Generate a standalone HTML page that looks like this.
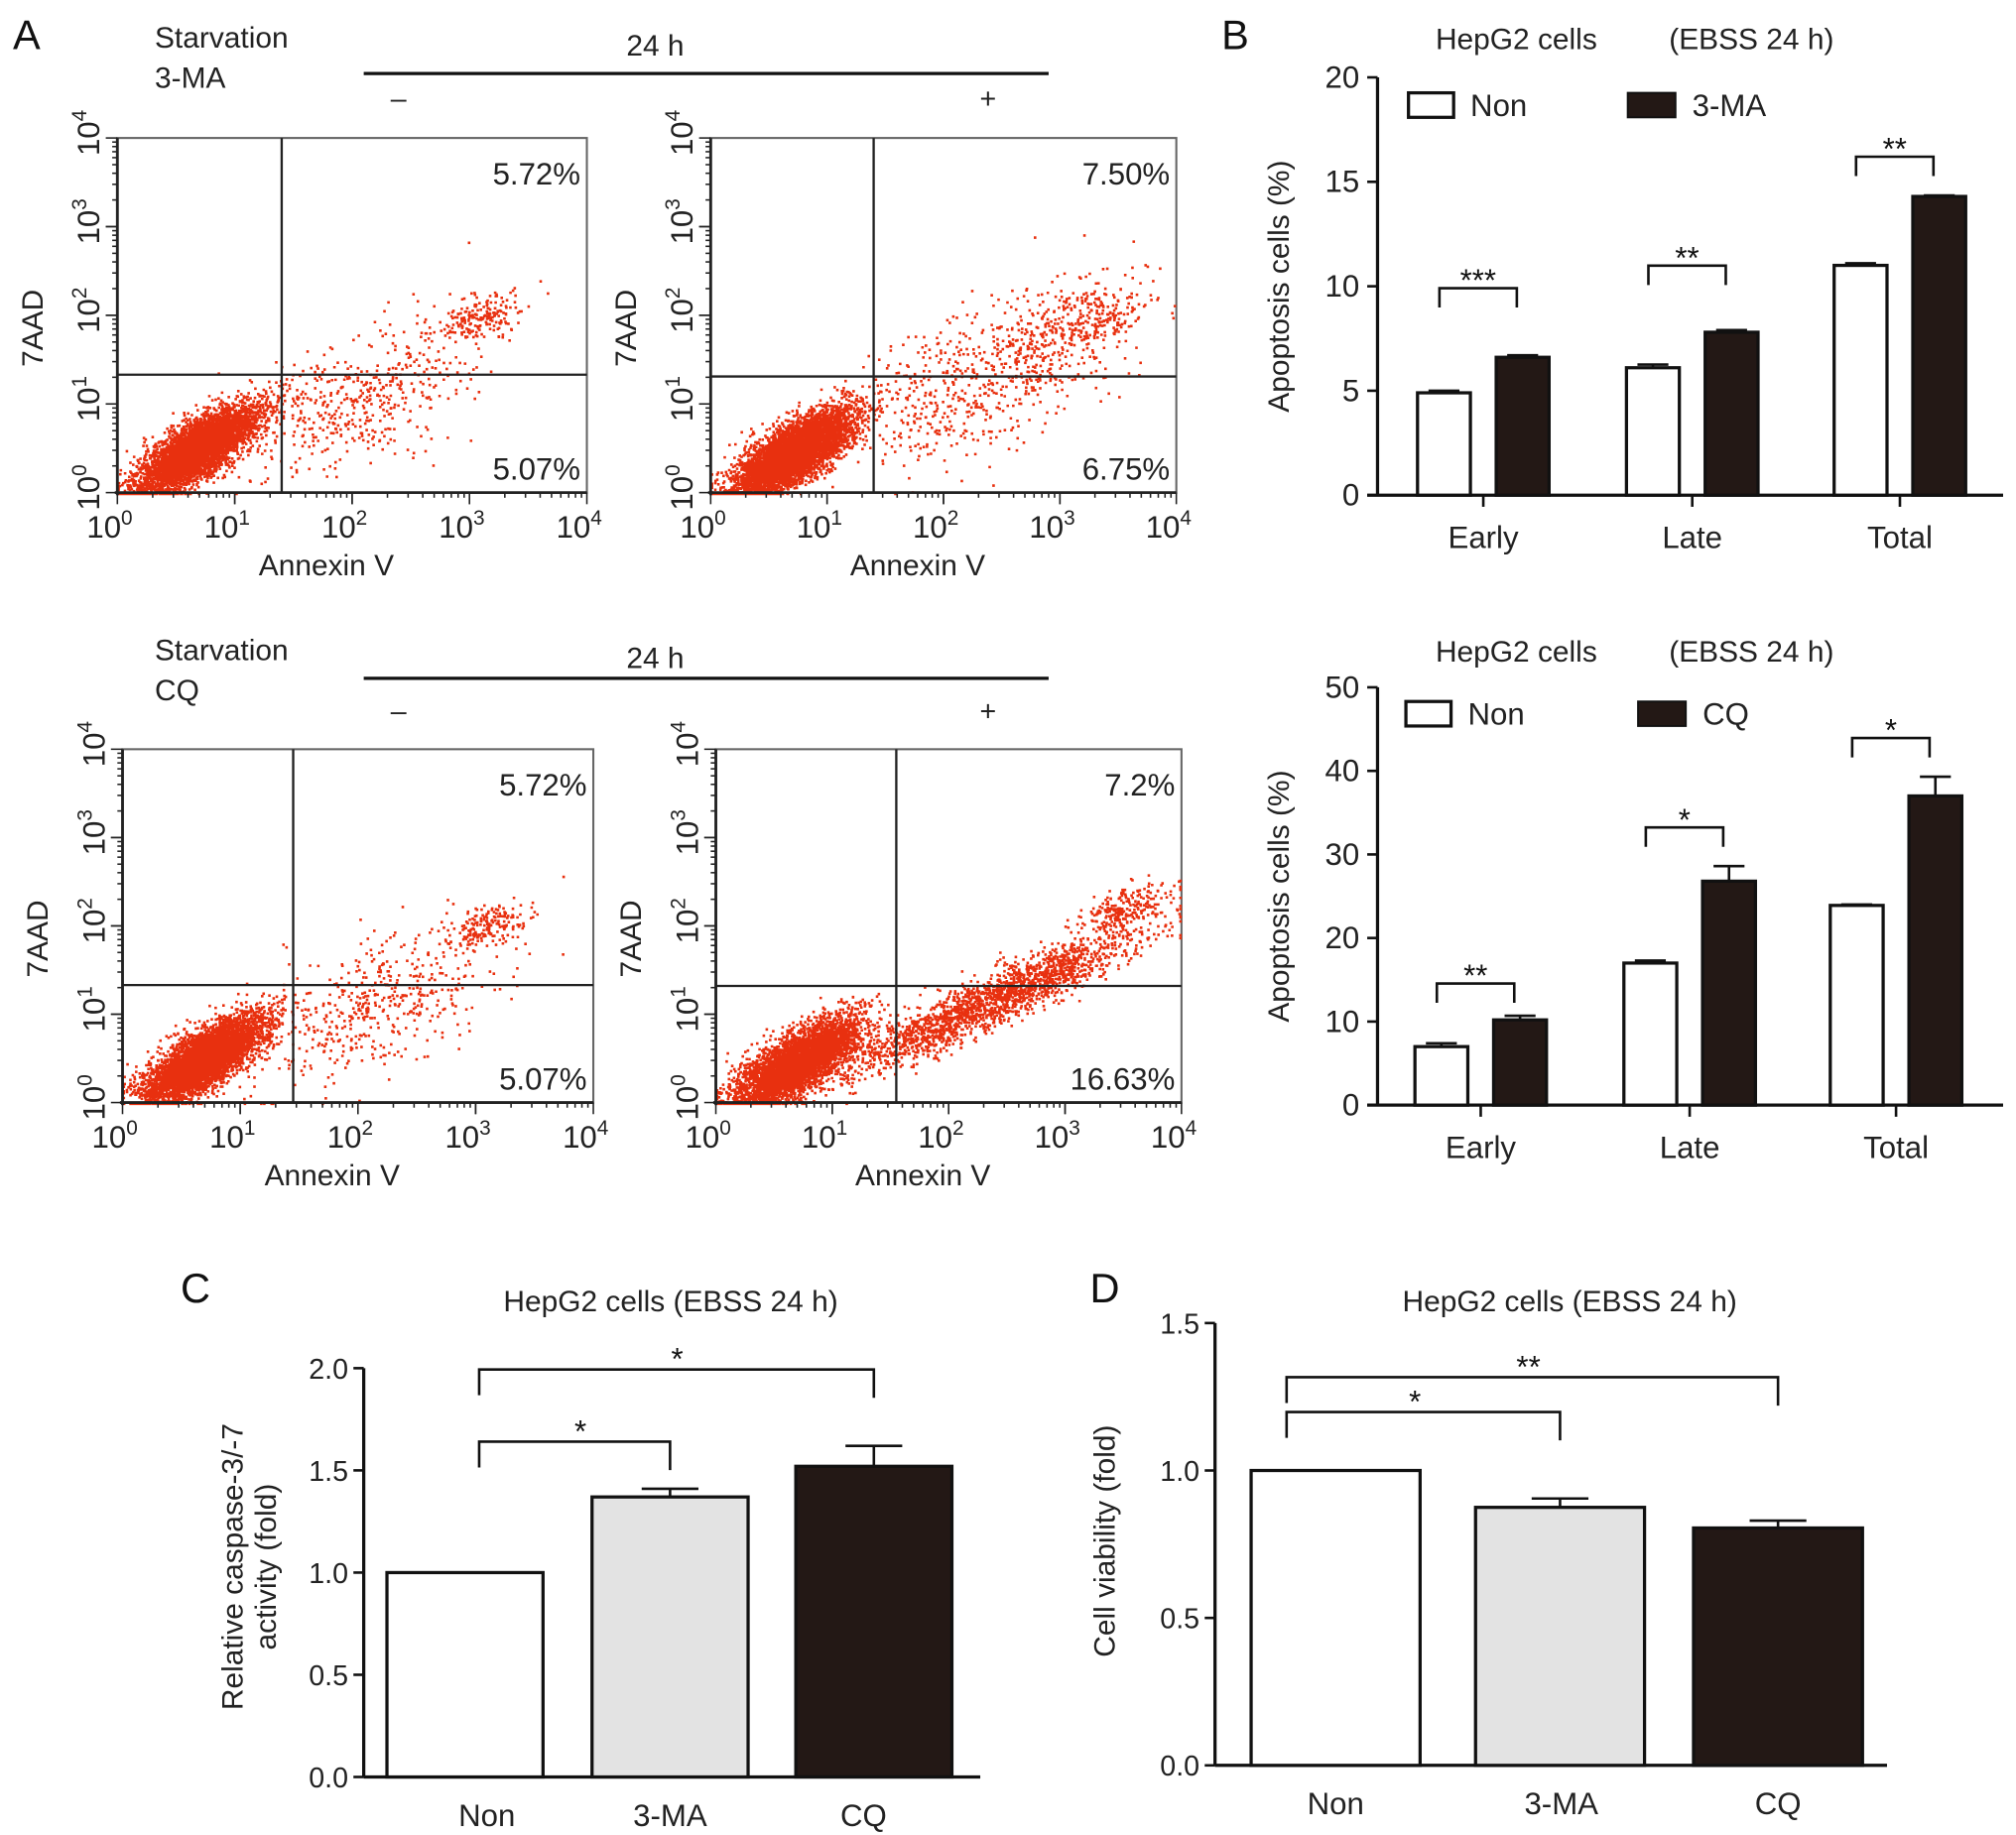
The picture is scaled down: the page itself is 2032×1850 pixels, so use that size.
<!DOCTYPE html>
<html><head><meta charset="utf-8"><style>
html,body{margin:0;padding:0;background:#fff;}
svg{display:block;font-family:"Liberation Sans",Arial,sans-serif;}
</style></head><body>
<svg id="fig" width="2032" height="1850" viewBox="0 0 1563 1423" preserveAspectRatio="none" xmlns="http://www.w3.org/2000/svg">
<rect width="1563" height="1423" fill="#fff"/>
<g font-size="32" fill="#111">
<text x="10" y="38">A</text>
<text x="947" y="38">B</text>
<text x="140" y="1010">C</text>
<text x="845" y="1010">D</text>
</g>
<g font-size="23" fill="#222">
<text x="120" y="37">Starvation</text>
<text x="120" y="68">3-MA</text>
<text x="508" y="43" text-anchor="middle">24 h</text>
<line x1="282" y1="57" x2="813" y2="57" stroke="#111" stroke-width="2.5"/>
<text x="309" y="84" text-anchor="middle" font-size="22">–</text>
<text x="766" y="84" text-anchor="middle" font-size="22">+</text>
<text x="120" y="512">Starvation</text>
<text x="120" y="543">CQ</text>
<text x="508" y="518" text-anchor="middle">24 h</text>
<line x1="282" y1="526" x2="813" y2="526" stroke="#111" stroke-width="2.5"/>
<text x="309" y="559" text-anchor="middle" font-size="22">–</text>
<text x="766" y="559" text-anchor="middle" font-size="22">+</text>
</g>
<g id="flow"></g>
<g id="bars"></g>
</svg>
<script>
// ---------- Panel B top data ----------
const bTopCats = ["Early","Late","Total"];
const bTopNon = [4.9, 6.1, 11.0];
const bTopNonErr = [0.1, 0.15, 0.1];
const bTopDrug = [6.6, 7.8, 14.3];
const bTopDrugErr = [0.1, 0.1, 0.05];
const bTopTicks = [0,5,10,15,20];
const bTopStars = ["***","**","**"];
// ---------- Panel B bottom data ----------
const bBotCats = ["Early","Late","Total"];
const bBotNon = [7.0, 17.0, 23.9];
const bBotNonErr = [0.4, 0.3, 0.1];
const bBotDrug = [10.2, 26.8, 37.0];
const bBotDrugErr = [0.5, 1.8, 2.3];
const bBotTicks = [0,10,20,30,40,50];
const bBotStars = ["**","*","*"];
// ---------- Panel C data ----------
const cCats = ["Non","3-MA","CQ"];
const cVals = [1.0, 1.37, 1.52];
const cErr = [0, 0.04, 0.1];
const cTicks = ["0.0","0.5","1.0","1.5","2.0"];
// ---------- Panel D data ----------
const dCats = ["Non","3-MA","CQ"];
const dVals = [1.0, 0.875, 0.805];
const dErr = [0, 0.03, 0.025];
const dTicks = ["0.0","0.5","1.0","1.5"];
// ---------- Flow cytometry percentages ----------
const flowTop = ["5.72%","7.50%","5.72%","7.2%"];
const flowBot = ["5.07%","6.75%","5.07%","16.63%"];

const NS="http://www.w3.org/2000/svg";
function mk(parent,tag,attrs,text){const e=document.createElementNS(NS,tag);for(const k in attrs)e.setAttribute(k,attrs[k]);if(text!==undefined)e.textContent=text;parent.appendChild(e);return e;}
const bars=document.getElementById('bars');
const DARK="#231815";

function ax(y0px,y1px,vmax){return v=>y0px-(v/vmax)*(y0px-y1px);}

function groupedChart(o){
  const g=mk(bars,'g',{});
  
  
  const Y=ax(o.y0,o.y1,o.vmax);
  const ya=mk(g,'line',{x1:o.x0,y1:o.y0,x2:o.x0,y2:o.y1,stroke:'#111','stroke-width':2.5});
  
  const xa=mk(g,'line',{x1:o.x0-8,y1:o.y0,x2:o.x1,y2:o.y0,stroke:'#111','stroke-width':2.5});
  
  o.ticks.forEach(t=>{const v=parseFloat(t);mk(g,'line',{x1:o.x0-8,y1:Y(v),x2:o.x0,y2:Y(v),stroke:'#111','stroke-width':2});
    const tl=mk(g,'text',{x:o.x0-14,y:Y(v)+8,'text-anchor':'end','font-size':24,fill:'#222'},String(t));
    });
  o.cats.forEach((c,i)=>{
    const cx=o.cx[i];
    mk(g,'line',{x1:cx,y1:o.y0,x2:cx,y2:o.y0+9,stroke:'#111','stroke-width':2});
    const cl=mk(g,'text',{x:cx,y:o.y0+41,'text-anchor':'middle','font-size':24,fill:'#222'},c);
    
    const bw=41;
    const sets=[[o.non[i],o.nonErr[i],'#fff'],[o.drug[i],o.drugErr[i],DARK]];
    sets.forEach((s,j)=>{
      const x=j===0?cx-51:cx+10;
      const top=Y(s[0]);
      if(s[1]>0){mk(g,'line',{x1:x+bw/2,y1:top,x2:x+bw/2,y2:Y(s[0]+s[1]),stroke:'#111','stroke-width':2});
        mk(g,'line',{x1:x+bw/2-12,y1:Y(s[0]+s[1]),x2:x+bw/2+12,y2:Y(s[0]+s[1]),stroke:'#111','stroke-width':2});}
      const r=mk(g,'rect',{x:x,y:top,width:bw,height:o.y0-top,fill:s[2],stroke:'#111','stroke-width':2.5});
      
      
    });
    const hi=Math.max(o.drug[i]+o.drugErr[i],o.non[i]+o.nonErr[i]);
    const by=Y(hi)-o.bOff[i];
    const lx=cx-34, rx=cx+26;
    mk(g,'polyline',{points:`${lx},${by+15} ${lx},${by} ${rx},${by} ${rx},${by+15}`,fill:'none',stroke:'#111','stroke-width':2});
    const st=mk(g,'text',{x:(lx+rx)/2,y:by+2,'text-anchor':'middle','font-size':24,fill:'#111'},o.stars[i]);
    
  });
  const l1=mk(g,'rect',{x:o.lx,y:o.ly,width:35,height:19,fill:'#fff',stroke:'#111','stroke-width':2.5});
  
  const lt1=mk(g,'text',{x:o.lx+48,y:o.ly+18,'font-size':24,fill:'#222'},'Non');
  
  const l2=mk(g,'rect',{x:o.lx2,y:o.ly,width:37,height:19,fill:DARK,stroke:'#111','stroke-width':1.5});
  
  const lt2=mk(g,'text',{x:o.lx2+50,y:o.ly+18,'font-size':24,fill:'#222'},o.drugName);
  
  const t1=mk(g,'text',{x:1113,y:o.ty,'font-size':23,fill:'#222'},'HepG2 cells');
  
  const t2=mk(g,'text',{x:1294,y:o.ty,'font-size':23,fill:'#222'},'(EBSS 24 h)');
  
  const yl=mk(g,'text',{x:0,y:0,'font-size':23,fill:'#222','text-anchor':'middle',transform:`translate(999,${(o.y0+o.y1)/2}) rotate(-90)`},'Apoptosis cells (%)');
  
}
groupedChart({name:'chart-b-3ma',x0:1068,x1:1553,y0:384,y1:60,vmax:20,ticks:bTopTicks,cats:bTopCats,cx:[1150,1312,1473],
  non:bTopNon,nonErr:bTopNonErr,drug:bTopDrug,drugErr:bTopDrugErr,stars:bTopStars,bOff:[52,50,30],lx:1092,lx2:1262,ly:72,drugName:'3-MA',ty:38});
groupedChart({name:'chart-b-cq',x0:1068,x1:1553,y0:857,y1:533,vmax:50,ticks:bBotTicks,cats:bBotCats,cx:[1148,1310,1470],
  non:bBotNon,nonErr:bBotNonErr,drug:bBotDrug,drugErr:bBotDrugErr,stars:bBotStars,bOff:[25,30,30],lx:1090,lx2:1270,ly:544,drugName:'CQ',ty:513});

function singleChart(o){
  const g=mk(bars,'g',{});
  
  
  const Y=ax(o.y0,o.y1,o.vmax);
  mk(g,'line',{x1:o.x0,y1:o.y0,x2:o.x0,y2:o.y1,stroke:'#111','stroke-width':2.5});
  mk(g,'line',{x1:o.x0,y1:o.y0,x2:o.x1,y2:o.y0,stroke:'#111','stroke-width':2.5});
  o.ticks.forEach(t=>{const v=parseFloat(t);mk(g,'line',{x1:o.x0-8,y1:Y(v),x2:o.x0,y2:Y(v),stroke:'#111','stroke-width':2});
    const tl=mk(g,'text',{x:o.x0-12,y:Y(v)+8,'text-anchor':'end','font-size':22,fill:'#222'},t);
    });
  const fills=['#fff','#e3e3e3',DARK];
  o.cats.forEach((c,i)=>{
    const x=o.bx[i],bw=o.bw,top=Y(o.vals[i]);
    if(o.err[i]>0){const ey=Y(o.vals[i]+o.err[i]);
      mk(g,'line',{x1:x+bw/2,y1:top,x2:x+bw/2,y2:ey,stroke:'#111','stroke-width':2});
      mk(g,'line',{x1:x+bw/2-22,y1:ey,x2:x+bw/2+22,y2:ey,stroke:'#111','stroke-width':2});}
    const r=mk(g,'rect',{x:x,y:top,width:bw,height:o.y0-top,fill:fills[i],stroke:'#111','stroke-width':2.5});
    
    const cl=mk(g,'text',{x:x+bw/2+o.lblOff[i],y:o.y0+38,'text-anchor':'middle','font-size':24,fill:'#222'},c);
    
  });
  o.brackets.forEach(b=>{
    const lx=o.bx[0]+o.bw/2+o.bShift, rx=o.bx[b.to]+o.bw/2;
    mk(g,'polyline',{points:`${lx},${b.y+20} ${lx},${b.y} ${rx},${b.y} ${rx},${b.y+22}`,fill:'none',stroke:'#111','stroke-width':2});
    const st=mk(g,'text',{x:b.sx,y:b.y,'text-anchor':'middle','font-size':24,fill:'#111'},b.s);
    
  });
  const t=mk(g,'text',{x:o.tx,y:1017,'text-anchor':'middle','font-size':23,fill:'#222'},'HepG2 cells (EBSS 24 h)');
  
  o.ylab.forEach((s,k)=>{const yl=mk(g,'text',{x:0,y:0,'font-size':23,fill:'#222','text-anchor':'middle',transform:`translate(${o.ylx[k]},${o.yly}) rotate(-90)`},s);
    });
}
singleChart({name:'chart-c-caspase',x0:282,x1:760,y0:1378,y1:1061,vmax:2,ticks:cTicks,cats:cCats,vals:cVals,err:cErr,bx:[300,459,617],bw:121,
  lblOff:[17,0,-8],bShift:11,brackets:[{to:1,y:1118,s:'*',sx:450},{to:2,y:1062,s:'*',sx:525}],tx:520,ylab:['Relative caspase-3/-7','activity (fold)'],ylx:[188,214],yly:1215});
singleChart({name:'chart-d-viability',x0:942,x1:1463,y0:1369,y1:1026,vmax:1.5,ticks:dTicks,cats:dCats,vals:dVals,err:dErr,bx:[970,1144,1313],bw:131,
  lblOff:[0,1,0],bShift:-38,brackets:[{to:1,y:1095,s:'*',sx:1097},{to:2,y:1068,s:'**',sx:1185}],tx:1217,ylab:['Cell viability (fold)'],ylx:[864],yly:1195});

// ---------- Flow cytometry ----------
// cluster params: [logX center, logY center, sdX, sdY, correlation, count]
const flowClusters = [
  [[0.68,0.5,0.25,0.24,0.75,5200],[2.1,1.1,0.55,0.45,0.6,520],[3.1,2.0,0.16,0.13,0.4,180]],
  [[0.7,0.45,0.26,0.25,0.75,5200],[2.4,1.35,0.6,0.5,0.6,700],[3.2,1.95,0.28,0.2,0.5,240]],
  [[0.68,0.5,0.25,0.24,0.75,5200],[2.1,1.1,0.55,0.45,0.6,520],[3.1,2.0,0.16,0.13,0.4,180]],
  [[0.68,0.45,0.26,0.25,0.75,4800],[2.35,1.15,0.65,0.42,0.93,2000],[3.5,2.2,0.2,0.15,0.6,240]]
];
const flowGates=[[1.4,1.33],[1.4,1.31],[1.45,1.33],[1.55,1.32]];
const flowFrames=[[91,107,455,382],[551,107,912,382],[95,581,460,855],[555,581,916,855]];
function rng(seed){return function(){seed|=0;seed=seed+0x6D2B79F5|0;let t=Math.imul(seed^seed>>>15,1|seed);t=t+Math.imul(t^t>>>7,61|t)^t;return((t^t>>>14)>>>0)/4294967296;};}
const flow=document.getElementById('flow');
flowFrames.forEach((f,pi)=>{
  const [x0,y0,x1,y1]=f;const dw=(x1-x0)/4,dh=(y1-y0)/4;
  const g=mk(flow,'g',{});
  
  
  mk(g,'rect',{x:x0,y:y0,width:x1-x0,height:y1-y0,fill:'none',stroke:'#666','stroke-width':1.6});
  const R=rng(pi*977+13);
  let d='';
  flowClusters[pi].forEach(c=>{
    for(let k=0;k<c[5];k++){
      const u1=R()||1e-9,u2=R();const z1=Math.sqrt(-2*Math.log(u1))*Math.cos(2*Math.PI*u2);const z2=Math.sqrt(-2*Math.log(u1))*Math.sin(2*Math.PI*u2);
      let lx=c[0]+c[2]*z1,ly=c[1]+c[3]*(c[4]*z1+Math.sqrt(1-c[4]*c[4])*z2);
      lx=Math.max(0,Math.min(3.98,lx));ly=Math.max(0,Math.min(3.98,ly));
      const px=x0+lx*dw,py=y1-ly*dh;
      d+=`M${px.toFixed(1)} ${py.toFixed(1)}h2v2h-2z`;
    }
  });
  const pts=mk(g,'path',{d:d,fill:'#e8300f'});
  
  const gx=x0+flowGates[pi][0]*dw,gy=y1-flowGates[pi][1]*dh;
  mk(g,'line',{x1:gx,y1:y0,x2:gx,y2:y1,stroke:'#222','stroke-width':1.8});
  mk(g,'line',{x1:x0,y1:gy,x2:x1,y2:gy,stroke:'#222','stroke-width':1.8});
  mk(g,'line',{x1:x0,y1:y0,x2:x0,y2:y1+2,stroke:'#222','stroke-width':2.2});
  mk(g,'line',{x1:x0-2,y1:y1,x2:x1,y2:y1,stroke:'#222','stroke-width':2.2});
  for(let dec=0;dec<4;dec++){for(let m=1;m<=10;m++){const off=Math.log10(m);const len=(m===1||m===10)?9:4;
      mk(g,'line',{x1:x0+(dec+off)*dw,y1:y1,x2:x0+(dec+off)*dw,y2:y1+len,stroke:'#222','stroke-width':1.2});
      mk(g,'line',{x1:x0,y1:y1-(dec+off)*dh,x2:x0-len,y2:y1-(dec+off)*dh,stroke:'#222','stroke-width':1.2});}}
  for(let dec=0;dec<=4;dec++){
    const xt=mk(g,'text',{x:x0+dec*dw-6,y:y1+35,'text-anchor':'middle','font-size':24,fill:'#222'});
    
    xt.appendChild(document.createTextNode('10'));mk(xt,'tspan',{dy:-10,'font-size':16},String(dec));
    const yt=mk(g,'text',{x:0,y:0,'text-anchor':'middle','font-size':24,fill:'#222',transform:`translate(${x0-14},${y1-dec*dh-4}) rotate(-90)`});
    
    yt.appendChild(document.createTextNode('10'));mk(yt,'tspan',{dy:-10,'font-size':16},String(dec));
  }
  const xl=mk(g,'text',{x:(x0+x1)/2-20,y:y1+64,'text-anchor':'middle','font-size':23,fill:'#222'},'Annexin V');
  
  const yl=mk(g,'text',{x:0,y:0,'text-anchor':'middle','font-size':23,fill:'#222',transform:`translate(${x0-58},${(y0+y1)/2+10}) rotate(-90)`},'7AAD');
  
  const pt=mk(g,'text',{x:x1-5,y:y0+36,'text-anchor':'end','font-size':24,fill:'#222'},flowTop[pi]);
  
  const pb=mk(g,'text',{x:x1-5,y:y1-10,'text-anchor':'end','font-size':24,fill:'#222'},flowBot[pi]);
  
});
</script>
</body></html>
